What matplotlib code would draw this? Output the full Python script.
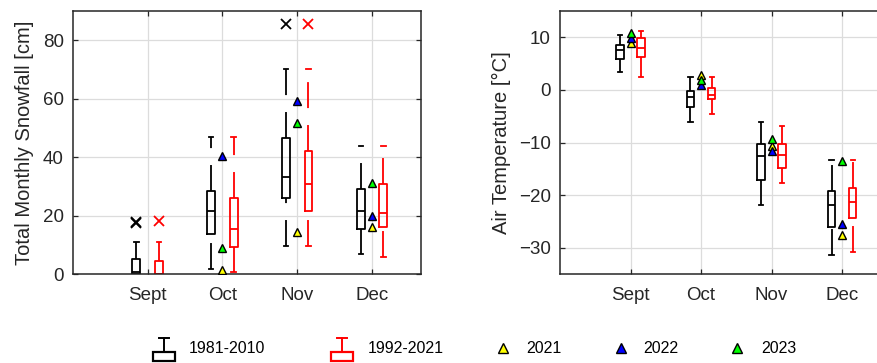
import matplotlib.pyplot as plt
from matplotlib.patches import Rectangle
import numpy as np

plt.rcParams['font.family'] = ['Liberation Sans', 'DejaVu Sans']
plt.rcParams['lines.scale_dashes'] = False

months = ['Sept', 'Oct', 'Nov', 'Dec']

# snowfall [cm], 1981-2010 climatology box stats
snow_a_lo = [0.0, 1.7, 9.6, 7.0]
snow_a_q1 = [0.0, 13.9, 26.1, 15.6]
snow_a_med = [0.7, 21.6, 33.1, 21.7]
snow_a_q3 = [5.1, 28.4, 46.6, 29.3]
snow_a_hi = [11.2, 46.9, 70.1, 44.0]
snow_a_out = [[17.6, 18.0], [], [85.7], []]

# snowfall [cm], 1992-2021
snow_b_lo = [0.0, 0.9, 9.6, 6.0]
snow_b_q1 = [0.0, 9.4, 21.7, 16.0]
snow_b_med = [0.0, 15.4, 31.0, 20.8]
snow_b_q3 = [4.7, 26.2, 42.1, 30.7]
snow_b_hi = [11.2, 46.9, 70.1, 44.0]
snow_b_out = [[18.2], [], [85.7], []]

snow_2021 = [np.nan, 1.3, 14.4, 16.3]
snow_2022 = [np.nan, 40.3, 59.3, 20.0]
snow_2023 = [np.nan, 9.0, 51.7, 31.1]

# air temperature [degC]
temp_a_lo = [3.5, -6.0, -21.8, -31.4]
temp_a_q1 = [5.8, -3.2, -17.0, -26.0]
temp_a_med = [7.6, -1.3, -12.5, -21.9]
temp_a_q3 = [8.6, -0.1, -10.2, -19.2]
temp_a_hi = [10.5, 2.5, -6.0, -13.3]

temp_b_lo = [2.5, -4.6, -17.6, -30.8]
temp_b_q1 = [6.2, -1.8, -14.9, -24.3]
temp_b_med = [7.9, -1.0, -12.3, -21.3]
temp_b_q3 = [9.8, 0.4, -10.2, -18.7]
temp_b_hi = [11.2, 2.5, -6.8, -13.3]

temp_2021 = [8.9, 2.8, -10.7, -27.5]
temp_2022 = [9.8, 0.9, -11.5, -25.4]
temp_2023 = [10.8, 1.9, -9.4, -13.5]

year_labels = ['2021', '2022', '2023']
year_colors = ['#ffff00', '#0000ff', '#00ff00']

W, H = 877, 363
x = np.arange(1, len(months) + 1)


def make_stats(lo, q1, med, q3, hi, out=None):
    if out is None:
        out = [[] for _ in lo]
    return [dict(whislo=a, q1=b, med=c, q3=d, whishi=e, fliers=f)
            for a, b, c, d, e, f in zip(lo, q1, med, q3, hi, out)]


def draw_boxes(ax, stats, pos, color):
    art = ax.bxp(stats, positions=pos, widths=0.105, capwidths=0.06,
                 manage_ticks=False,
                 boxprops=dict(color=color, lw=1.3),
                 medianprops=dict(color=color, lw=1.3),
                 whiskerprops=dict(color=color, lw=1.3, linestyle=(0, (18.7, 12.2))),
                 capprops=dict(color=color, lw=1.3),
                 flierprops=dict(marker='x', markeredgecolor=color, markersize=7,
                                 mew=1.3, linestyle='none'))
    # matlab draws the whiskers bottom-up, dash pattern starts at the low end
    for w in art['whiskers'][0::2]:
        wx, wy = w.get_data()
        w.set_data(wx[::-1], wy[::-1])


def style_axes(ax, ylim, yticks, ylabel):
    ax.set_xlim(0, 4.65)
    ax.set_ylim(*ylim)
    ax.set_xticks(x, months)
    ax.set_yticks(yticks)
    ax.grid(True, color='#dcdcdc', lw=0.9)
    ax.set_axisbelow(True)
    ax.tick_params(direction='in', top=True, right=True, length=3.5, width=0.9,
                   colors='#262626', labelsize=13.5)
    ax.tick_params(axis='x', pad=9)
    ax.tick_params(axis='y', pad=6.5)
    for s in ax.spines.values():
        s.set_linewidth(1.1)
        s.set_color('#262626')
    ax.set_ylabel(ylabel, fontsize=14.5, color='#262626', labelpad=6)


fig = plt.figure(figsize=(W / 100, H / 100), dpi=100)

# legend strip (pixel coords)
lax = fig.add_axes([0, 0, 1, 40 / H])
lax.set_xlim(0, W)
lax.set_ylim(H, H - 40)
lax.axis('off')

ax1 = fig.add_axes([72.7 / W, 88.7 / H, 348 / W, 263.3 / H])
ax2 = fig.add_axes([560 / W, 88.7 / H, 328 / W, 263.3 / H])

panels = [
    (ax1, make_stats(snow_a_lo, snow_a_q1, snow_a_med, snow_a_q3, snow_a_hi, snow_a_out),
     make_stats(snow_b_lo, snow_b_q1, snow_b_med, snow_b_q3, snow_b_hi, snow_b_out),
     [snow_2021, snow_2022, snow_2023], (0, 90), [0, 20, 40, 60, 80],
     'Total Monthly Snowfall [cm]'),
    (ax2, make_stats(temp_a_lo, temp_a_q1, temp_a_med, temp_a_q3, temp_a_hi),
     make_stats(temp_b_lo, temp_b_q1, temp_b_med, temp_b_q3, temp_b_hi),
     [temp_2021, temp_2022, temp_2023], (-35, 15), [-30, -20, -10, 0, 10],
     'Air Temperature [°C]'),
]

for ax, sa, sb, yrs, ylim, yticks, ylabel in panels:
    style_axes(ax, ylim, yticks, ylabel)
    draw_boxes(ax, sa, x - 0.15, 'black')
    draw_boxes(ax, sb, x + 0.15, 'red')
    for vals, c in zip(yrs, year_colors):
        ax.plot(x, vals, linestyle='none', marker='^', markersize=6,
                markerfacecolor=c, markeredgecolor='black', mew=1.0, zorder=4)

# legend
box_items = [(164, 189, 'black', '1981-2010'), (341.5, 367.7, 'red', '1992-2021')]
for cx, tx, c, lab in box_items:
    lax.plot([cx - 5, cx + 5], [337.7, 337.7], color=c, lw=1.4)
    lax.plot([cx, cx], [337.7, 351.7], color=c, lw=1.4)
    lax.add_patch(Rectangle((cx - 11, 351.7), 22, 9.3, fill=False, edgecolor=c, lw=1.6))
    lax.text(tx, 349, lab, fontsize=11.5, va='center', ha='left', color='black')

tri_x = [503.3, 620.7, 737]
txt_x = [526.7, 643, 761]
for mx, tx, c, lab in zip(tri_x, txt_x, year_colors, year_labels):
    lax.plot([mx], [348.5], marker='^', markersize=6.5, markerfacecolor=c,
             markeredgecolor='black', mew=1.0, linestyle='none')
    lax.text(tx, 349, lab, fontsize=11.5, va='center', ha='left', color='black')

fig.savefig('out.png', dpi=100)
